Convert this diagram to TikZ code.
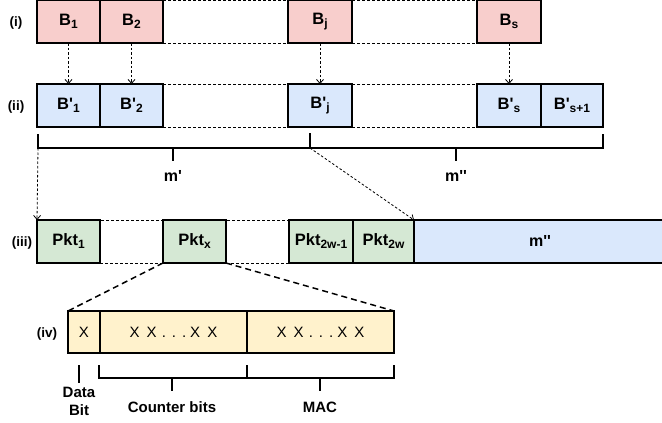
\documentclass[tikz,border=0pt]{standalone}
\usepackage{fontspec}
\setmainfont{Liberation Sans}[Ligatures=TeXOff]
\usetikzlibrary{arrows.meta}

\definecolor{redfill}{HTML}{F8CECC}
\definecolor{bluefill}{HTML}{DAE8FC}
\definecolor{greenfill}{HTML}{D5E8D4}
\definecolor{yellowfill}{HTML}{FFF2CC}

% lowered index used in the block and packet names
\newcommand\idx[1]{\raisebox{-3pt}{\fontsize{12}{12}\selectfont #1}}

\begin{document}
\begin{tikzpicture}[x=1pt,y=-1pt,
  cell/.style={draw=black, line width=1.5pt, inner sep=0pt, outer sep=0pt,
    anchor=north west, minimum height=43pt,
    font=\bfseries\fontsize{16.5}{19}\selectfont},
  gapbox/.style={draw=black, line width=0.8pt, dash pattern=on 3pt off 2pt,
    inner sep=0pt, outer sep=0pt, anchor=north west, minimum height=43pt},
  link/.style={draw=black, line width=0.8pt, dash pattern=on 2.5pt off 2pt,
    -{Straight Barb[length=4pt,width=7pt]}},
  zoomline/.style={draw=black, line width=1.5pt, dash pattern=on 6pt off 4pt},
  bracket/.style={draw=black, line width=1.8pt},
  rowlabel/.style={font=\bfseries\fontsize{13.5}{15}\selectfont},
  caption/.style={font=\bfseries\fontsize{15}{17}\selectfont, align=center},
  bits/.style={font=\fontsize{15}{17}\selectfont},
]
\clip (0,0) rectangle (662,423);

% ---------------- row (i): original blocks
\node[rowlabel] (li) at (16,23) {(i)};
\node[gapbox, minimum width=125pt] (ga1) at (163,0) {};
\node[gapbox, minimum width=125pt] (ga2) at (352,0) {};
\node[cell, fill=redfill, minimum width=63pt] (b1) at (37,0) {B\idx{1}};
\node[cell, fill=redfill, minimum width=63pt] (b2) at (100,0) {B\idx{2}};
\node[cell, fill=redfill, minimum width=64pt] (bj) at (288,0) {B\idx{j}};
\node[cell, fill=redfill, minimum width=64pt] (bs) at (477,0) {B\idx{s}};

% ---------------- row (ii): transformed blocks
\node[rowlabel] (lii) at (16,107) {(ii)};
\node[gapbox, minimum width=125pt] (gb1) at (163,84) {};
\node[gapbox, minimum width=125pt] (gb2) at (352,84) {};
\node[cell, fill=bluefill, minimum width=63pt] (c1) at (37,84) {B'\idx{1}};
\node[cell, fill=bluefill, minimum width=63pt] (c2) at (100,84) {B'\idx{2}};
\node[cell, fill=bluefill, minimum width=64pt] (cj) at (288,84) {B'\idx{j}};
\node[cell, fill=bluefill, minimum width=64pt] (cs) at (477,84) {B'\idx{s}};
\node[cell, fill=bluefill, minimum width=62pt] (cs1) at (541,84) {B'\idx{s+1}};

\draw[link] (b1) -- (c1);
\draw[link] (b2) -- (c2);
\draw[link] (bj) -- (cj);
\draw[link] (bs) -- (cs);

% bracket splitting the message into m' and m''
\coordinate (kl) at (38,148);
\coordinate (km) at (310,148);
\coordinate (kr) at (603,148);
\draw[bracket] (38,134) -- (kl) -- (kr) -- (603,134);
\draw[bracket] (310,133) -- (km);
\draw[bracket] (173,148) -- (173,161);
\draw[bracket] (456,148) -- (456,161);
\node[caption, font=\bfseries\fontsize{16}{18}\selectfont] (mp) at (173,176) {m'};
\node[caption, font=\bfseries\fontsize{16}{18}\selectfont] (mpp) at (456,176) {m''};

% ---------------- row (iii): packets
\node[rowlabel] (liii) at (22,243) {(iii)};
\node[gapbox, minimum width=63pt] (gc1) at (100,220) {};
\node[gapbox, minimum width=63pt] (gc2) at (226,220) {};
\node[cell, fill=greenfill, minimum width=63pt] (p1) at (37,220) {Pkt\idx{1}};
\node[cell, fill=greenfill, minimum width=63pt] (px) at (163,220) {Pkt\idx{x}};
\node[cell, fill=greenfill, minimum width=64pt] (pa) at (289,220) {Pkt\idx{2w-1}};
\node[cell, fill=greenfill, minimum width=61pt] (pb) at (353,220) {Pkt\idx{2w}};
\node[cell, fill=bluefill, minimum width=252pt] (rest) at (414,220) {};
\node[font=\bfseries\fontsize{16}{18}\selectfont] (restlabel) at (540,241) {m''};

\draw[link] (kl) -- (p1.north west);
\draw[link] (km) -- (pb.north east);

% ---------------- row (iv): packet content
\node[rowlabel] (liv) at (47,334) {(iv)};
\node[cell, fill=yellowfill, minimum width=32pt, minimum height=42pt, bits] (bd) at (68,311) {X};
\node[cell, fill=yellowfill, minimum width=147pt, minimum height=42pt, bits] (bc) at (100,311)
  {X\hspace{7pt}X\hspace{5pt}.\hspace{6pt}.\hspace{6pt}.\hspace{4pt}X\hspace{7pt}X};
\node[cell, fill=yellowfill, minimum width=147pt, minimum height=42pt, bits] (bm) at (247,311)
  {X\hspace{7pt}X\hspace{5pt}.\hspace{6pt}.\hspace{6pt}.\hspace{4pt}X\hspace{7pt}X};

\draw[zoomline] (px.south west) -- (bd.north west);
\draw[zoomline] (px.south east) -- (bm.north east);

% field brackets and their names
\draw[bracket] (79,365) -- (79,383);
\draw[bracket] (99,365) -- (99,378) -- (394,378) -- (394,365);
\draw[bracket] (247,365) -- (247,378);
\draw[bracket] (172,378) -- (172,391);
\draw[bracket] (320,378) -- (320,391);
\node[caption, font=\bfseries\fontsize{15}{18}\selectfont] (ldata) at (79,401) {Data\\Bit};
\node[caption] (lcnt) at (172,407) {Counter bits};
\node[caption] (lmac) at (320,407) {MAC};
\end{tikzpicture}
\end{document}
